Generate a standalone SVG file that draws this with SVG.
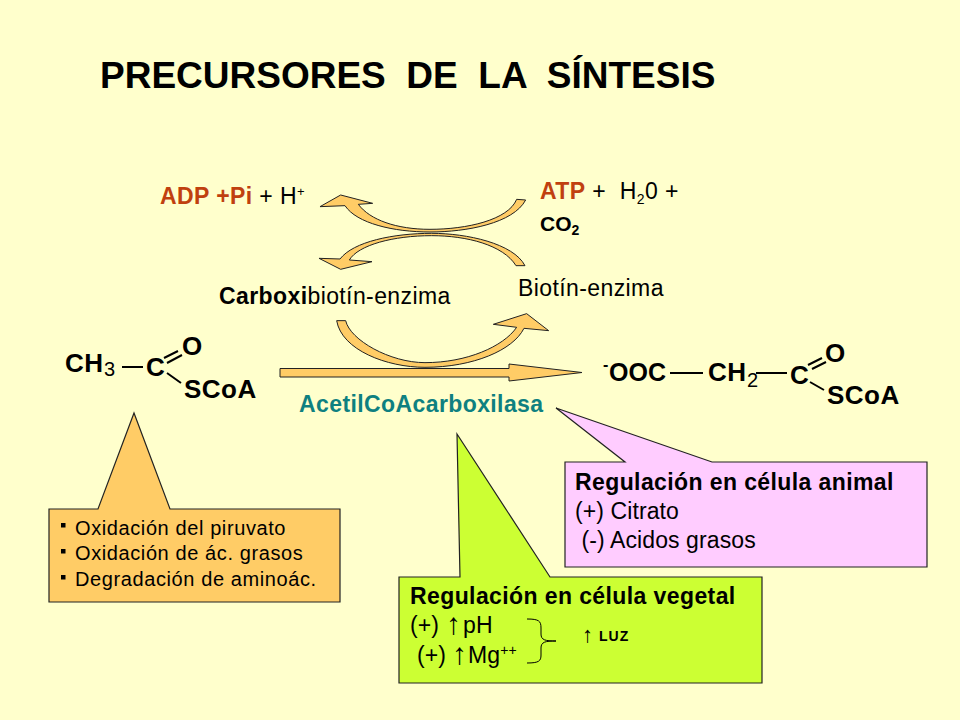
<svg xmlns="http://www.w3.org/2000/svg" width="960" height="720" viewBox="0 0 960 720">
<style>
text{font-family:"Liberation Sans",Arial,sans-serif;fill:#000;white-space:pre}
.b{font-weight:bold}
.t{font-size:23px;letter-spacing:.4px}
.l{font-size:23px;letter-spacing:.1px}
.f{fill:#FFCC66;stroke:#222;stroke-width:1;vector-effect:non-scaling-stroke}
.box{stroke:#222;stroke-width:1.2}
.mol{font-weight:bold;font-size:26px;letter-spacing:.5px}
.sub{font-size:20px}
.bond{stroke:#000;stroke-width:2;fill:none}
.r{fill:#C0400F;font-weight:bold}
</style>
<rect width="960" height="720" fill="#FFFFCC"/>
<text id="title" class="b" x="100" y="88" font-size="37">PRECURSORES  DE  LA  SÍNTESIS</text>
<g id="connectors">
<path class="f" transform="translate(300 170) scale(.3333)" d="M650,88 L677,90 C640,160 500,186 390,186 C280,186 170,160 135,107 L60,110 L122,75 L218,100 L175,103 C210,150 290,178 390,178 C500,178 625,150 650,88Z"/>
<path class="f" transform="translate(300 170) scale(.3333)" d="M648,287 L675,287 C640,220 500,190 395,190 C280,190 160,215 120,267 L57,265 L122,298 L216,275 L148,270 C175,225 280,197 395,197 C500,197 610,225 648,287Z"/>
<path class="f" transform="translate(300 170) scale(.3333)" d="M110,452 L137,452 C150,510 270,578 375,578 C500,578 610,530 650,472 L580,463 L680,431 L746,482 L672,475 C640,540 520,592 375,592 C260,592 125,540 110,452Z"/>
<path class="f" d="M280,368.500 H509 V364 L582,372.500 L509,381 V377 H280Z"/>
</g>
<g id="reactants">
<text class="t" x="160" y="204"><tspan class="r">ADP +Pi</tspan> + H<tspan font-size="13" dy="-8">+</tspan></text>
<text class="t" x="540" y="199"><tspan class="r">ATP</tspan> +  H<tspan font-size="14" dy="5">2</tspan><tspan dy="-5">0 +</tspan></text>
<text class="b" x="540" y="231" font-size="21">CO<tspan font-size="14" dy="4">2</tspan></text>
<text class="t" x="219" y="304"><tspan class="b">Carboxi</tspan>biotín-enzima</text>
<text class="t" x="518" y="296">Biotín-enzima</text>
<text class="t b" x="299" y="412" style="fill:#0E8080">AcetilCoAcarboxilasa</text>
</g>
<g id="acetyl">
<text class="mol" x="65" y="372">CH</text>
<text class="sub" x="104" y="376">3</text>
<text class="mol" x="146" y="376">C</text>
<text class="mol" x="182" y="355">O</text>
<text class="mol" x="184" y="398">SCoA</text>
<path class="bond" d="M122,367 H143 M164,358 L178,351 M167,363 L182,355 M167,373 L181,383"/>
</g>
<g id="malonyl">
<text class="b" x="603" y="370" font-size="16">-</text>
<text class="mol" x="609" y="381" style="font-size:25px;letter-spacing:0">OOC</text>
<text class="mol" x="708" y="381">CH</text>
<text class="sub" x="747" y="387">2</text>
<text class="mol" x="790" y="384">C</text>
<text class="mol" x="825" y="362">O</text>
<text class="mol" x="827" y="404">SCoA</text>
<path class="bond" d="M670,373 H703 M756,373 H787 M808,365 L822,358 M812,369 L826,362 M810,382 L824,390"/>
</g>
<g id="orange-note">
<path class="box" fill="#FFCC66" d="M49,509 H98 L134,413 L170,509 H340 V602 H49Z"/>
<g font-size="20" letter-spacing=".6">
<path d="M61,523h4.500v4.500h-4.500zM61,549h4.500v4.500h-4.500zM61,575h4.500v4.500h-4.500z"/>
<text x="75" y="535">Oxidación del piruvato</text>
<text x="75" y="560">Oxidación de ác. grasos</text>
<text x="75" y="586">Degradación de aminoác.</text>
</g>
</g>
<g id="green-note">
<path class="box" fill="#CCFF33" d="M399,577 H460 L457,434 L550,577 H762 V683 H399Z"/>
<text class="t b" x="410" y="604">Regulación en célula vegetal</text>
<text class="l" x="410" y="633">(+)</text>
<text x="446" y="634" font-size="30">↑</text>
<text class="l" x="463" y="633">pH</text>
<text class="l" x="417" y="663">(+)</text>
<text x="452" y="664" font-size="30">↑</text>
<text class="l" x="468" y="663">Mg<tspan font-size="14" dy="-8">++</tspan></text>
<path d="M527,619 C539,619 541,621 541,628 V634 C541,640 545,641 556,641 C545,641 541,642 541,648 V655 C541,661 539,663 527,663" fill="none" stroke="#000" stroke-width="1"/>
<text x="582" y="642" font-size="22" class="b">↑</text>
<text class="b" x="599" y="641" font-size="14" letter-spacing="1">LUZ</text>
</g>
<g id="pink-note">
<path class="box" fill="#FFCCFF" d="M565,462 H625 L556,408 L712,462 H927 V567 H565Z"/>
<text class="t b" x="575" y="490">Regulación en célula animal</text>
<text class="l" x="575" y="519">(+) Citrato</text>
<text class="l" x="575" y="548"> (-) Acidos grasos</text>
</g>
</svg>
